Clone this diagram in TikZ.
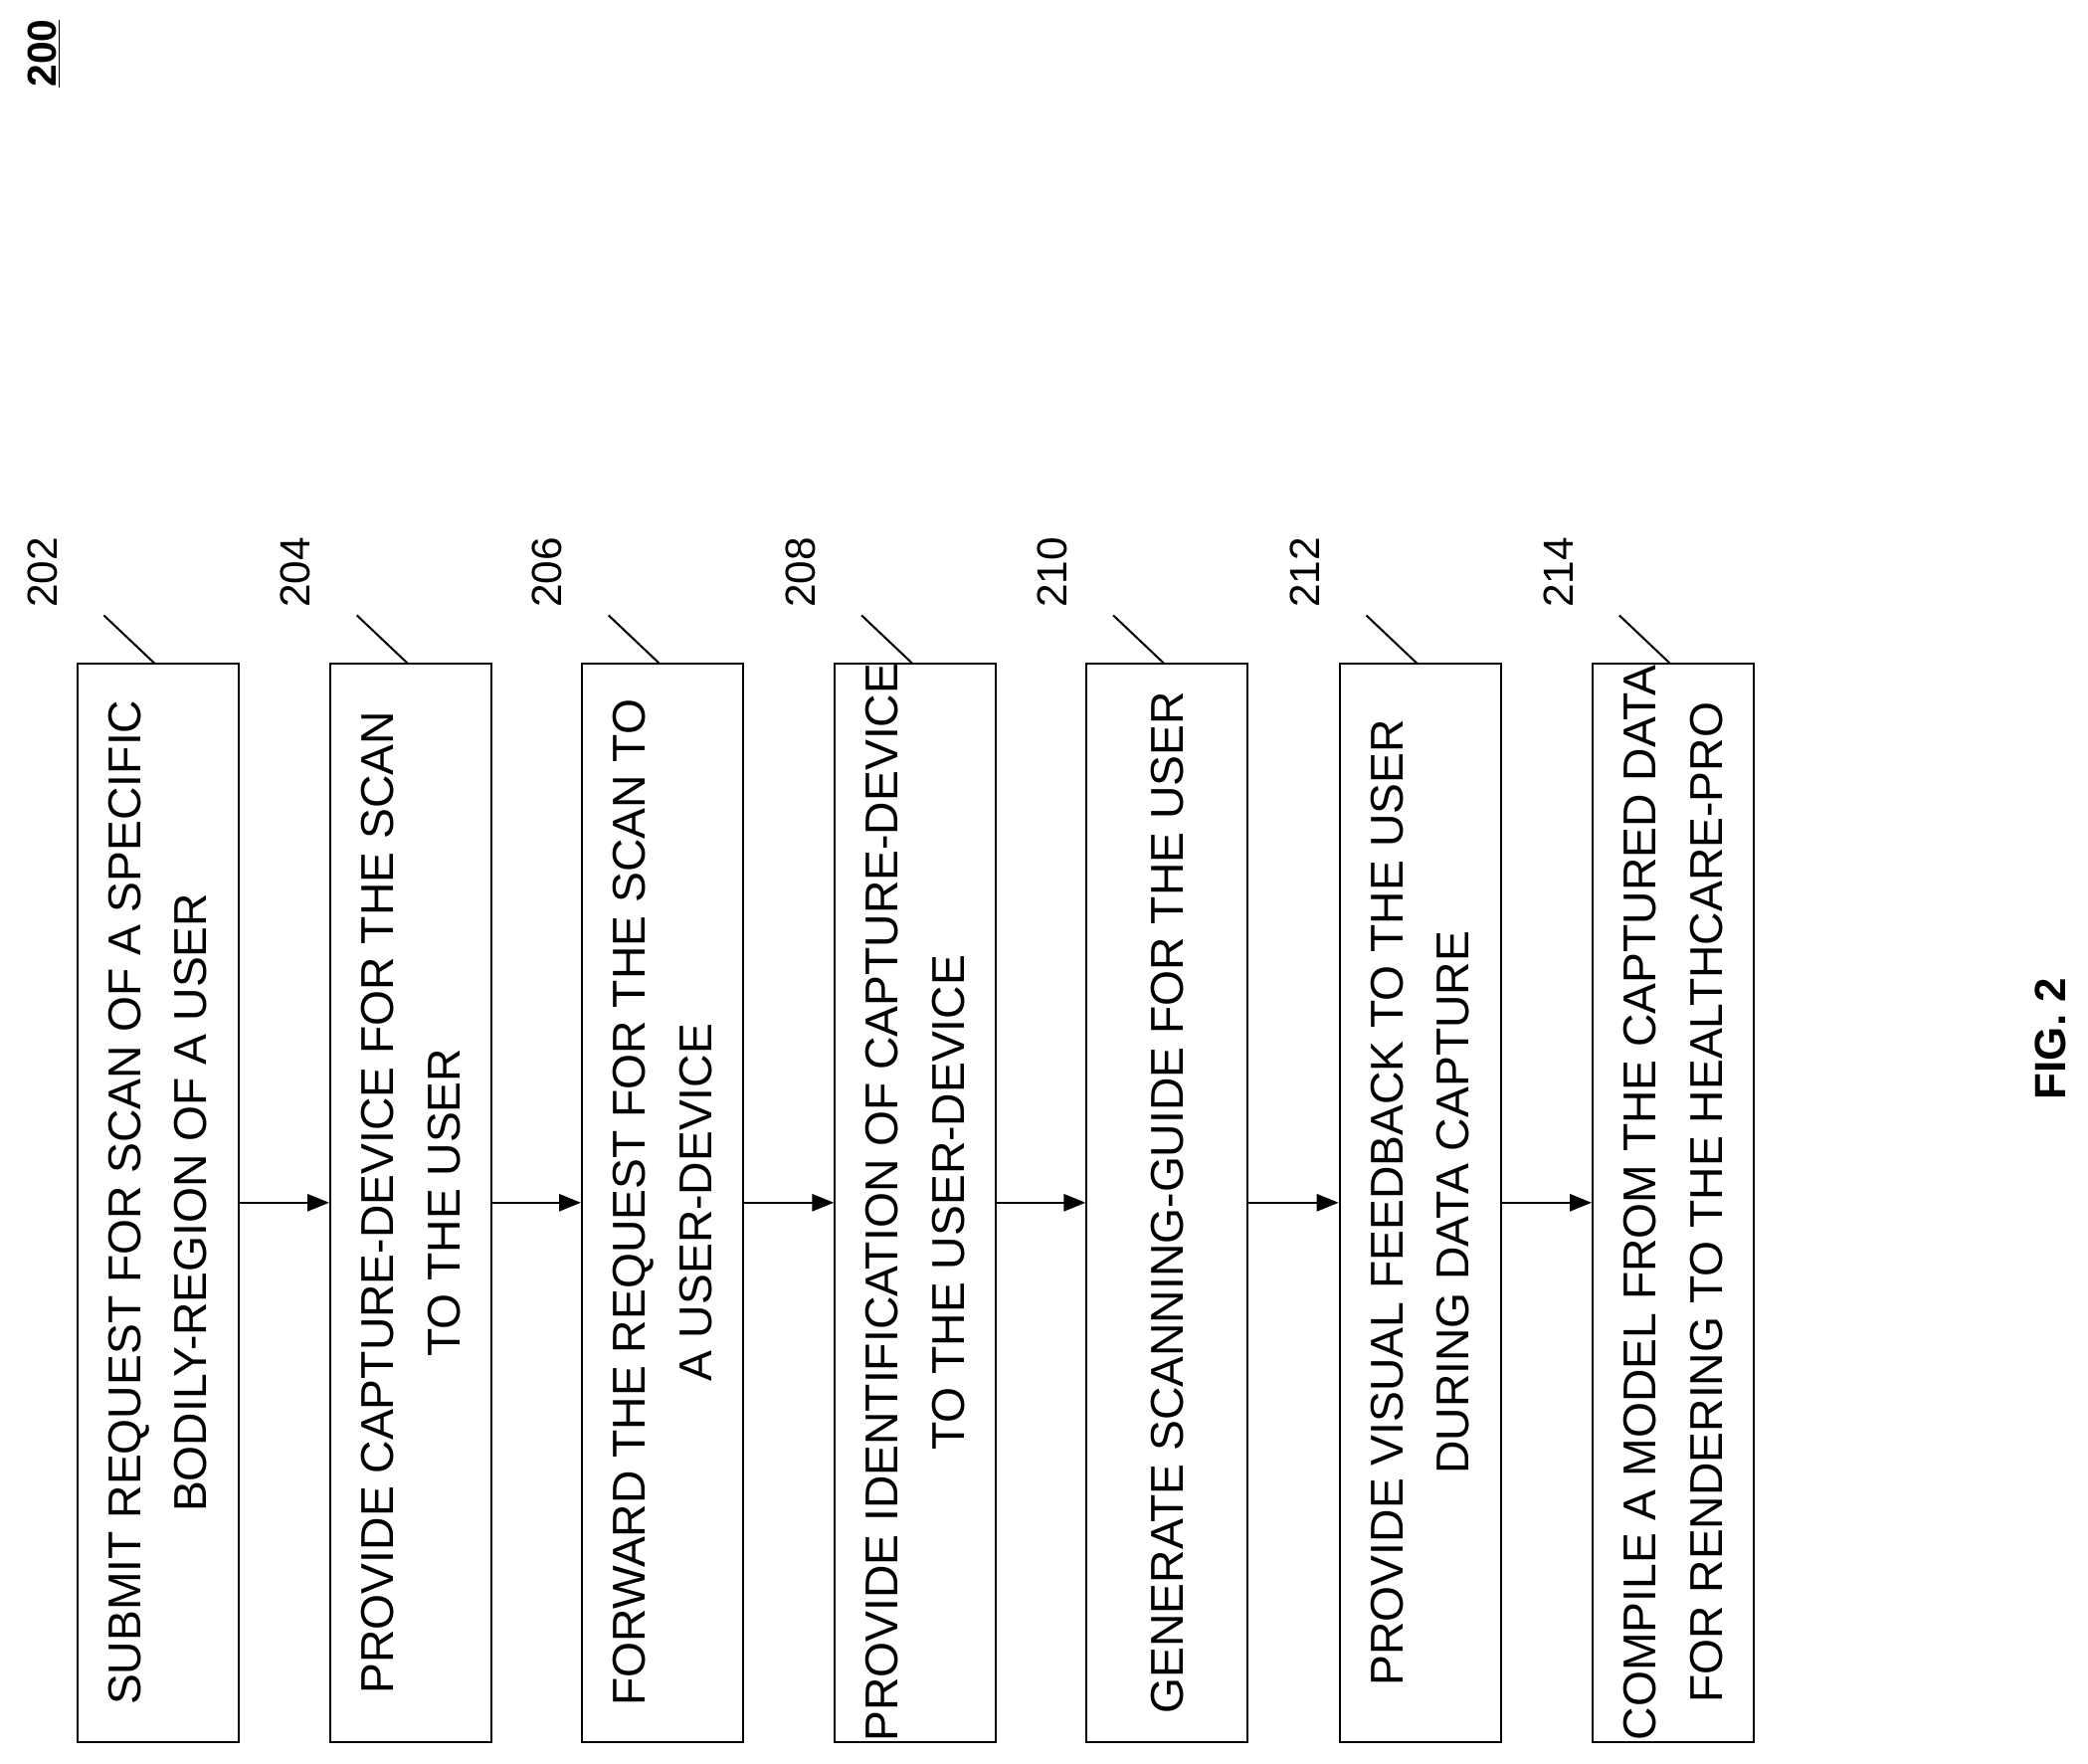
\documentclass[tikz,border=0pt]{standalone}
\usepackage{fontspec}
\setmainfont{Liberation Sans}
\usetikzlibrary{arrows.meta}
\begin{document}
\begin{tikzpicture}[x=0.03cm,y=-0.03cm,
  box/.style={draw,line width=1.3pt,rotate=90,minimum width=24.3cm,minimum height=3.63cm,align=center,inner sep=0pt,font=\fontsize{29.5}{42.5}\selectfont},
  lbl/.style={rotate=90,font=\fontsize{27}{30}\selectfont},
  flow/.style={line width=1.3pt,-{Triangle[length=14pt,width=11pt]}},
  lead/.style={line width=1.3pt}]
\useasboundingbox (0,0) rectangle (1568,1324);
\node[rotate=90,font=\bfseries\fontsize{26}{30}\selectfont] (t200) at (33,40) {\underline{200}};
\node[rotate=90,font=\bfseries\fontsize{28}{30}\selectfont] (fig) at (1540,780) {FIG. 2};
\foreach \i/\x/\n/\t in {1/58/202/{SUBMIT REQUEST FOR SCAN OF A SPECIFIC\\BODILY-REGION OF A USER},
  2/248/204/{PROVIDE CAPTURE-DEVICE FOR THE SCAN\\TO THE USER},
  3/437/206/{FORWARD THE REQUEST FOR THE SCAN TO\\A USER-DEVICE},
  4/627/208/{PROVIDE IDENTIFICATION OF CAPTURE-DEVICE\\TO THE USER-DEVICE},
  5/816/210/{GENERATE SCANNING-GUIDE FOR THE USER},
  6/1006/212/{PROVIDE VISUAL FEEDBACK TO THE USER\\DURING DATA CAPTURE},
  7/1196/214/{COMPILE A MODEL FROM THE CAPTURED DATA\\FOR RENDERING TO THE HEALTHCARE-PRO}}{
  \node[box] (b\i) at (\x+60.5,903) {\t};
  \node[lbl] (l\i) at (\x-26,430) {\n};
  \coordinate (ls\i) at (\x+20,462);
  \coordinate (le\i) at (\x+58,498);
  \draw[lead] (ls\i) -- (le\i);
}
\foreach \a/\b in {1/2,2/3,3/4,4/5,5/6,6/7}{\draw[flow] (b\a.south) -- (b\b.north);}
\end{tikzpicture}
\end{document}
